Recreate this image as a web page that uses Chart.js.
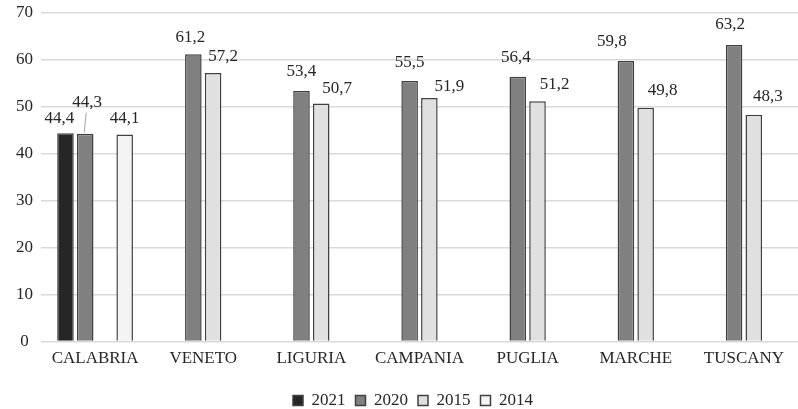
<!DOCTYPE html>
<html>
<head>
<meta charset="utf-8">
<script src="https://cdn.jsdelivr.net/npm/chart.js@4/dist/chart.umd.min.js"></script>
<style>
  html, body { margin: 0; padding: 0; background: #ffffff; }
  #wrap { width: 798px; height: 409px; }
</style>
</head>
<body>
<div id="wrap"><canvas id="chart" width="798" height="409"></canvas></div>
<script>
// Regions shown along the horizontal axis
const regions = ['CALABRIA', 'VENETO', 'LIGURIA', 'CAMPANIA', 'PUGLIA', 'MARCHE', 'TUSCANY'];

// Values per year (null where the year has no figure for that region)
const values2021 = [44.4, null, null, null, null, null, null];
const values2020 = [44.3, 61.2, 53.4, 55.5, 56.4, 59.8, 63.2];
const values2015 = [null, 57.2, 50.7, 51.9, 51.2, 49.8, 48.3];
const values2014 = [44.1, null, null, null, null, null, null];

// Vertical axis ticks
const yTicks = [0, 10, 20, 30, 40, 50, 60, 70];

const serif = '"Liberation Serif", "Times New Roman", serif';
const textColor = '#262626';

// Hand placement of each value label relative to the top centre of its bar:
// [dx, rise above bar top to label centre, leader line]
const labelPlacement = {
  0: { 0: [-6, 15] },
  1: { 0: [2, 31, true], 1: [-3, 17], 2: [0, 19], 3: [0, 19], 4: [-2, 19], 5: [-14, 19], 6: [-4, 20] },
  2: { 1: [10, 17], 2: [16, 15], 3: [20, 11], 4: [17, 17], 5: [17, 17], 6: [14, 18] },
  3: { 0: [0, 16] }
};

// Draws the value above each bar, with a short leader line where the label sits high
const valueLabels = {
  id: 'valueLabels',
  afterDatasetsDraw(chart) {
    const ctx = chart.ctx;
    ctx.save();
    ctx.font = '17px ' + serif;
    ctx.fillStyle = textColor;
    ctx.textAlign = 'center';
    ctx.textBaseline = 'middle';
    chart.data.datasets.forEach((ds, d) => {
      const meta = chart.getDatasetMeta(d);
      meta.data.forEach((bar, i) => {
        const v = ds.data[i];
        if (v === null || v === undefined) return;
        const place = (labelPlacement[d] && labelPlacement[d][i]) || [0, 16];
        const x = bar.x + place[0];
        const y = bar.y - place[1];
        if (place[2]) {
          ctx.strokeStyle = '#a6a6a6';
          ctx.lineWidth = 1;
          ctx.beginPath();
          ctx.moveTo(x - 1, y + 10);
          ctx.lineTo(bar.x - 1, bar.y - 1);
          ctx.stroke();
        }
        ctx.fillText(v.toFixed(1).replace('.', ','), x, y);
      });
    });
    ctx.restore();
  }
};

// Nudges the legend row so it sits centred under the plot, a little lower
const legendNudge = {
  id: 'legendNudge',
  afterLayout(chart) {
    const lg = chart.legend;
    if (!lg) return;
    lg.left += 14; lg.right += 14;
    lg.top += 10; lg.bottom += 10;
  }
};

const border = '#404040';

new Chart(document.getElementById('chart'), {
  type: 'bar',
  data: {
    labels: regions,
    datasets: [
      { label: '2021', data: values2021, backgroundColor: '#262626', borderColor: border, borderWidth: 1.5 },
      { label: '2020', data: values2020, backgroundColor: '#808080', borderColor: border, borderWidth: 1.5 },
      { label: '2015', data: values2015, backgroundColor: '#e0e0e0', borderColor: border, borderWidth: 1.5 },
      { label: '2014', data: values2014, backgroundColor: '#f4f4f4', borderColor: border, borderWidth: 1.5 }
    ]
  },
  options: {
    responsive: false,
    devicePixelRatio: 1,
    animation: false,
    categoryPercentage: 0.73,
    barPercentage: 0.84,
    layout: { padding: { top: 0, right: 0, bottom: 0, left: 0 } },
    plugins: {
      tooltip: { enabled: false },
      legend: {
        position: 'bottom',
        labels: {
          boxWidth: 10,
          boxHeight: 10,
          padding: 10,
          color: textColor,
          font: { family: serif, size: 17 }
        }
      }
    },
    scales: {
      x: {
        grid: { display: false, drawTicks: false },
        border: { display: false },
        afterFit(scale) { scale.height -= 4; },
        ticks: { color: textColor, font: { family: serif, size: 17 }, padding: 7, maxRotation: 0 }
      },
      y: {
        min: 0,
        max: 70,
        afterBuildTicks(scale) { scale.ticks = yTicks.map(v => ({ value: v })); },
        afterFit(scale) { scale.width = 41; scale.paddingTop = 13; },
        grid: { color: '#d9d9d9', lineWidth: 1.5, drawTicks: false },
        border: { display: false },
        ticks: { color: textColor, font: { family: serif, size: 17 }, padding: 8, crossAlign: 'center' }
      }
    }
  },
  plugins: [valueLabels, legendNudge]
});
</script>
</body>
</html>
